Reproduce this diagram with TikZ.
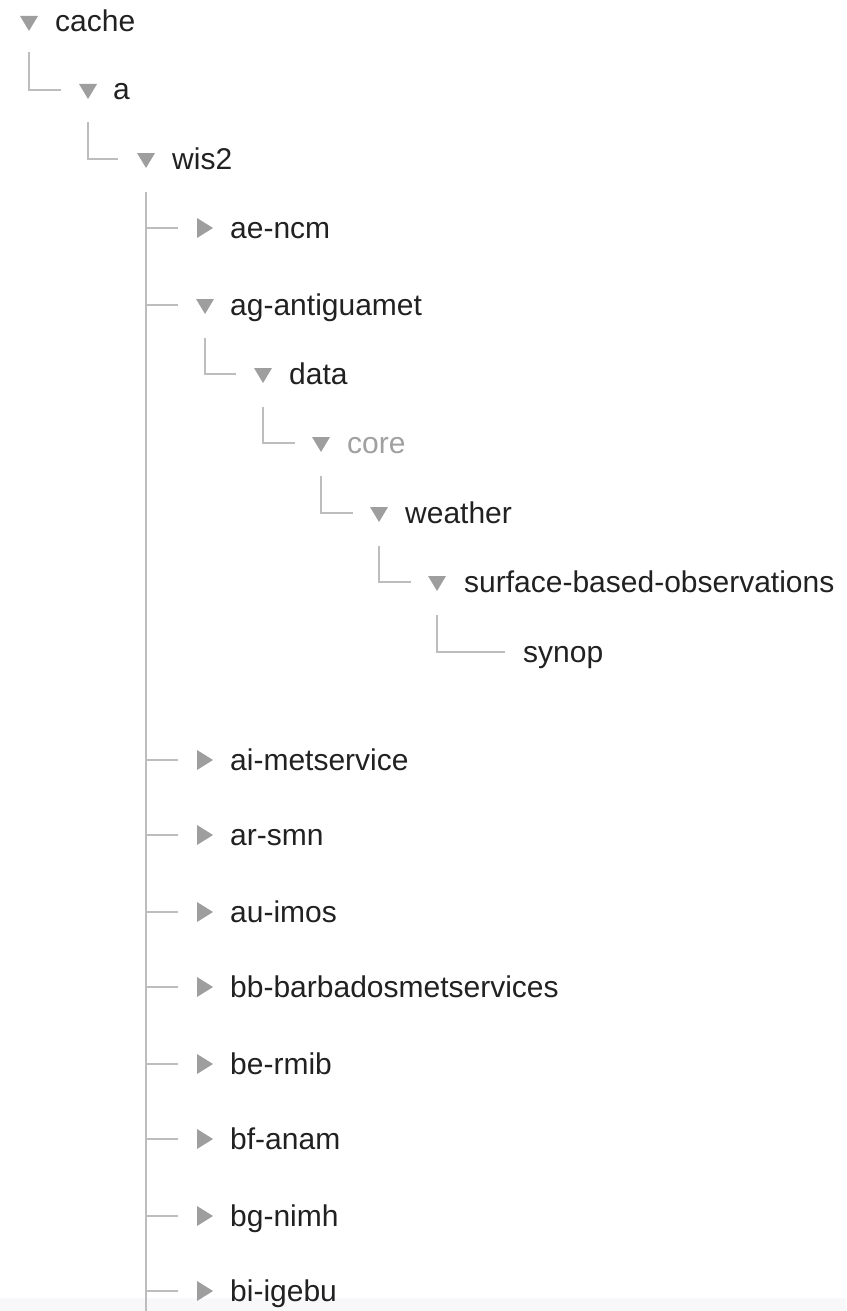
\documentclass[tikz,border=0pt]{standalone}
\usepackage{fontspec}
\setmainfont{Liberation Sans}
\usetikzlibrary{calc}
\definecolor{linec}{RGB}{189,189,189}
\definecolor{tric}{RGB}{158,158,158}
\definecolor{txtc}{RGB}{33,33,33}
\definecolor{dimc}{RGB}{160,160,160}
\definecolor{bandc}{RGB}{248,248,250}
\tikzset{
  conn/.style={draw=linec, line width=1.5pt},
  lbl/.style={anchor=base west, inner sep=0pt, text=txtc, font=\fontsize{30}{36}\selectfont},
  dimlbl/.style={lbl, text=dimc},
  tridown/.pic={\fill[tric] (-9,-6) -- (9,-6) -- (0,9) -- cycle;},
  triright/.pic={\fill[tric] (-8,-10) -- (8,0) -- (-8,10) -- cycle;}
}
\begin{document}
\begin{tikzpicture}[x=1pt,y=-1pt]
\useasboundingbox (0,0) rectangle (846,1311);
\fill[bandc] (0,1298) rectangle (846,1311);
% row anchors (triangle centres)
\coordinate (r-cache) at (29,22);
\coordinate (r-a) at (88,90);
\coordinate (r-wis2) at (146,159);
\coordinate (r-aencm) at (205,228);
\coordinate (r-ag) at (205,305);
\coordinate (r-data) at (263,374);
\coordinate (r-core) at (321,443);
\coordinate (r-weather) at (379,513);
\coordinate (r-surface) at (437,582);
\coordinate (r-synop) at (496,652);
\coordinate (r-ai) at (205,760);
\coordinate (r-ar) at (205,835);
\coordinate (r-au) at (205,912);
\coordinate (r-bb) at (205,987);
\coordinate (r-be) at (205,1064);
\coordinate (r-bf) at (205,1139);
\coordinate (r-bg) at (205,1216);
\coordinate (r-bi) at (205,1291);
\coordinate (wis2end) at (146,1311);
% triangles
\foreach \n in {cache,a,wis2,ag,data,core,weather,surface}
  \pic at (r-\n) {tridown};
\foreach \n in {aencm,ai,ar,au,bb,be,bf,bg,bi}
  \pic at (r-\n) {triright};
% labels
\node[lbl] (cache) at ($(r-cache)+(26,10)$) {cache};
\node[lbl] (a) at ($(r-a)+(25,10)$) {a};
\node[lbl] (wis2) at ($(r-wis2)+(26,10)$) {wis2};
\node[lbl] (aencm) at ($(r-aencm)+(25,10)$) {ae-ncm};
\node[lbl] (ag) at ($(r-ag)+(25,10)$) {ag-antiguamet};
\node[lbl] (data) at ($(r-data)+(26,10)$) {data};
\node[dimlbl] (core) at ($(r-core)+(26,10)$) {core};
\node[lbl] (weather) at ($(r-weather)+(26,10)$) {weather};
\node[lbl] (surface) at ($(r-surface)+(27,10)$) {surface-based-observations};
\node[lbl] (synop) at ($(r-synop)+(27,10)$) {synop};
\node[lbl] (ai) at ($(r-ai)+(25,10)$) {ai-metservice};
\node[lbl] (ar) at ($(r-ar)+(25,10)$) {ar-smn};
\node[lbl] (au) at ($(r-au)+(25,10)$) {au-imos};
\node[lbl] (bb) at ($(r-bb)+(25,10)$) {bb-barbadosmetservices};
\node[lbl] (be) at ($(r-be)+(25,10)$) {be-rmib};
\node[lbl] (bf) at ($(r-bf)+(25,10)$) {bf-anam};
\node[lbl] (bg) at ($(r-bg)+(25,10)$) {bg-nimh};
\node[lbl] (bi) at ($(r-bi)+(25,10)$) {bi-igebu};
% connectors
\draw[conn] ($(r-cache)+(0,30)$) |- ($(r-a)+(-27,0)$);
\draw[conn] ($(r-a)+(0,32)$) |- ($(r-wis2)+(-28,0)$);
\draw[conn] ($(r-wis2)+(0,33)$) -- (wis2end);
\foreach \n in {aencm,ag,ai,ar,au,bb,be,bf,bg,bi}
  \draw[conn] (r-wis2 |- r-\n) -- ($(r-\n)+(-27,0)$);
\draw[conn] ($(r-ag)+(0,33)$) |- ($(r-data)+(-27,0)$);
\draw[conn] ($(r-data)+(0,33)$) |- ($(r-core)+(-26,0)$);
\draw[conn] ($(r-core)+(0,33)$) |- ($(r-weather)+(-26,0)$);
\draw[conn] ($(r-weather)+(0,33)$) |- ($(r-surface)+(-26,0)$);
\draw[conn] ($(r-surface)+(0,33)$) |- ($(r-synop)+(9,0)$);
\end{tikzpicture}
\end{document}
